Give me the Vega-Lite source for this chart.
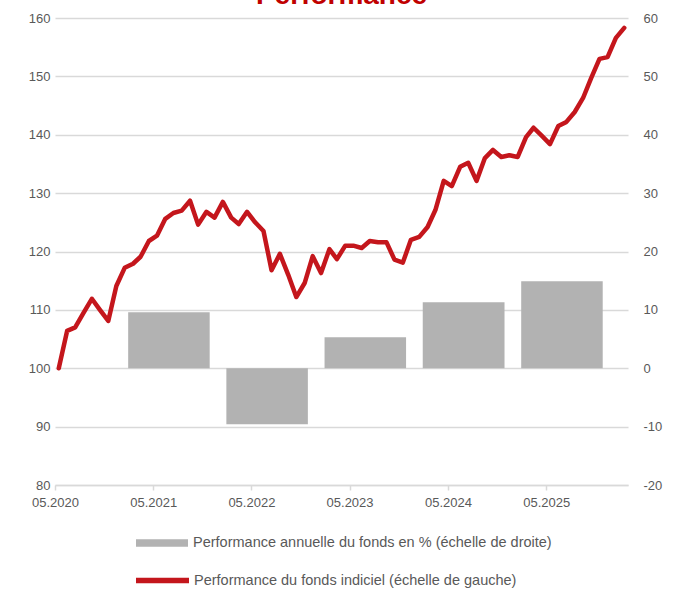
{
  "$schema": "https://vega.github.io/schema/vega-lite/v6.json",
  "width": 573,
  "height": 467,
  "autosize": {"type": "none"},
  "padding": {"left": 55, "top": 18, "right": 53, "bottom": 105},
  "background": "white",
  "title": {
    "text": "Performance",
    "fontSize": 28,
    "fontWeight": "bold",
    "font": "Liberation Sans",
    "color": "#C00000",
    "anchor": "middle",
    "baseline": "alphabetic",
    "offset": 0,
    "dy": 20
  },
  "datasets": {
    "bars": [
      {"start": "2021-01-28", "end": "2021-11-27", "p": 9.6, "s": "Performance annuelle du fonds en % (échelle de droite)"},
      {"start": "2022-01-28", "end": "2022-11-27", "p": -9.6, "s": "Performance annuelle du fonds en % (échelle de droite)"},
      {"start": "2023-01-28", "end": "2023-11-27", "p": 5.3, "s": "Performance annuelle du fonds en % (échelle de droite)"},
      {"start": "2024-01-28", "end": "2024-11-27", "p": 11.3, "s": "Performance annuelle du fonds en % (échelle de droite)"},
      {"start": "2025-01-28", "end": "2025-11-27", "p": 14.9, "s": "Performance annuelle du fonds en % (échelle de droite)"}
    ],
    "line": [
      {"date": "2020-05-15", "v": 100.0},
      {"date": "2020-06-15", "v": 106.4},
      {"date": "2020-07-15", "v": 107.0},
      {"date": "2020-08-15", "v": 109.5},
      {"date": "2020-09-15", "v": 111.9},
      {"date": "2020-10-15", "v": 110.0},
      {"date": "2020-11-15", "v": 108.1},
      {"date": "2020-12-15", "v": 114.1},
      {"date": "2021-01-15", "v": 117.2},
      {"date": "2021-02-15", "v": 117.9},
      {"date": "2021-03-15", "v": 119.1},
      {"date": "2021-04-15", "v": 121.8},
      {"date": "2021-05-15", "v": 122.7},
      {"date": "2021-06-15", "v": 125.6},
      {"date": "2021-07-15", "v": 126.6},
      {"date": "2021-08-15", "v": 127.0},
      {"date": "2021-09-15", "v": 128.7},
      {"date": "2021-10-15", "v": 124.6},
      {"date": "2021-11-15", "v": 126.8},
      {"date": "2021-12-15", "v": 125.8},
      {"date": "2022-01-15", "v": 128.5},
      {"date": "2022-02-15", "v": 125.8},
      {"date": "2022-03-15", "v": 124.7},
      {"date": "2022-04-15", "v": 126.8},
      {"date": "2022-05-15", "v": 125.0},
      {"date": "2022-06-15", "v": 123.5},
      {"date": "2022-07-15", "v": 116.8},
      {"date": "2022-08-15", "v": 119.6},
      {"date": "2022-09-15", "v": 116.0},
      {"date": "2022-10-15", "v": 112.2},
      {"date": "2022-11-15", "v": 114.6},
      {"date": "2022-12-15", "v": 119.2},
      {"date": "2023-01-15", "v": 116.3},
      {"date": "2023-02-15", "v": 120.4},
      {"date": "2023-03-15", "v": 118.7},
      {"date": "2023-04-15", "v": 121.0},
      {"date": "2023-05-15", "v": 121.0},
      {"date": "2023-06-15", "v": 120.6},
      {"date": "2023-07-15", "v": 121.8},
      {"date": "2023-08-15", "v": 121.6},
      {"date": "2023-09-15", "v": 121.6},
      {"date": "2023-10-15", "v": 118.6},
      {"date": "2023-11-15", "v": 118.1},
      {"date": "2023-12-15", "v": 122.0},
      {"date": "2024-01-15", "v": 122.5},
      {"date": "2024-02-15", "v": 124.2},
      {"date": "2024-03-15", "v": 127.1},
      {"date": "2024-04-15", "v": 132.1},
      {"date": "2024-05-15", "v": 131.2},
      {"date": "2024-06-15", "v": 134.5},
      {"date": "2024-07-15", "v": 135.2},
      {"date": "2024-08-15", "v": 132.1},
      {"date": "2024-09-15", "v": 136.0},
      {"date": "2024-10-15", "v": 137.4},
      {"date": "2024-11-15", "v": 136.2},
      {"date": "2024-12-15", "v": 136.5},
      {"date": "2025-01-15", "v": 136.2},
      {"date": "2025-02-15", "v": 139.6},
      {"date": "2025-03-15", "v": 141.2},
      {"date": "2025-04-15", "v": 139.8},
      {"date": "2025-05-15", "v": 138.4},
      {"date": "2025-06-15", "v": 141.5},
      {"date": "2025-07-15", "v": 142.2},
      {"date": "2025-08-15", "v": 143.9},
      {"date": "2025-09-15", "v": 146.3},
      {"date": "2025-10-15", "v": 149.7},
      {"date": "2025-11-15", "v": 153.0},
      {"date": "2025-12-15", "v": 153.3},
      {"date": "2026-01-15", "v": 156.6},
      {"date": "2026-02-15", "v": 158.3}
    ]
  },
  "config": {
    "view": {"stroke": null},
    "font": "Liberation Sans",
    "axis": {
      "labelFont": "Liberation Sans",
      "labelFontSize": 13,
      "labelColor": "#595959",
      "gridColor": "#D9D9D9",
      "gridWidth": 1.5,
      "domainColor": "#D9D9D9",
      "domainWidth": 1.5,
      "tickColor": "#D9D9D9",
      "tickWidth": 1.5,
      "title": null
    },
    "legend": {
      "labelFont": "Liberation Sans",
      "labelFontSize": 14.5,
      "labelColor": "#595959",
      "padding": 0,
      "title": null,
      "labelLimit": 600
    }
  },
  "layer": [
    {
      "data": {"name": "bars"},
      "mark": {"type": "bar", "color": "#B2B2B2"},
      "encoding": {
        "x": {
          "field": "start",
          "type": "temporal",
          "scale": {"domain": [{"year": 2020, "month": 5, "date": 1}, {"year": 2026, "month": 3, "date": 1}]},
          "axis": {
            "values": [
              {"year": 2020, "month": 5, "date": 1},
              {"year": 2021, "month": 5, "date": 1},
              {"year": 2022, "month": 5, "date": 1},
              {"year": 2023, "month": 5, "date": 1},
              {"year": 2024, "month": 5, "date": 1},
              {"year": 2025, "month": 5, "date": 1}
            ],
            "format": "%m.%Y",
            "grid": false,
            "tickSize": 5,
            "labelPadding": 6,
            "labelFlush": false,
            "labelOverlap": false
          }
        },
        "x2": {"field": "end"},
        "y": {
          "field": "p",
          "type": "quantitative",
          "scale": {"domain": [-20, 60], "nice": false, "zero": false},
          "axis": {
            "orient": "right",
            "values": [-20, -10, 0, 10, 20, 30, 40, 50, 60],
            "labelExpr": "datum.value < 0 ? '-' + abs(datum.value) : '' + datum.value",
            "grid": false,
            "domain": false,
            "ticks": false,
            "labelPadding": 15
          }
        },
        "y2": {"datum": 0},
        "color": {
          "field": "s",
          "type": "nominal",
          "scale": {"range": ["#B2B2B2"]},
          "legend": {
            "orient": "none",
            "legendX": 81,
            "legendY": 499,
            "symbolType": "M-1,-0.145H1V0.145H-1Z",
            "symbolSize": 2704,
            "symbolStrokeWidth": 0,
            "labelOffset": 5
          }
        }
      }
    },
    {
      "data": {"name": "line"},
      "mark": {"type": "line", "strokeWidth": 4.5, "strokeJoin": "round", "strokeCap": "round"},
      "encoding": {
        "x": {"field": "date", "type": "temporal"},
        "y": {
          "field": "v",
          "type": "quantitative",
          "scale": {"domain": [80, 160], "nice": false, "zero": false},
          "axis": {
            "orient": "left",
            "values": [80, 90, 100, 110, 120, 130, 140, 150, 160],
            "grid": true,
            "domain": false,
            "ticks": false,
            "labelPadding": 5
          }
        },
        "stroke": {
          "datum": "Performance du fonds indiciel (échelle de gauche)",
          "type": "nominal",
          "scale": {"range": ["#C4161C"]},
          "legend": {
            "orient": "none",
            "legendX": 78,
            "legendY": 533,
            "symbolType": "M-1,0H1",
            "symbolSize": 2809,
            "symbolStrokeWidth": 5.5,
            "labelOffset": 2
          }
        }
      }
    }
  ],
  "resolve": {"scale": {"y": "independent"}}
}
